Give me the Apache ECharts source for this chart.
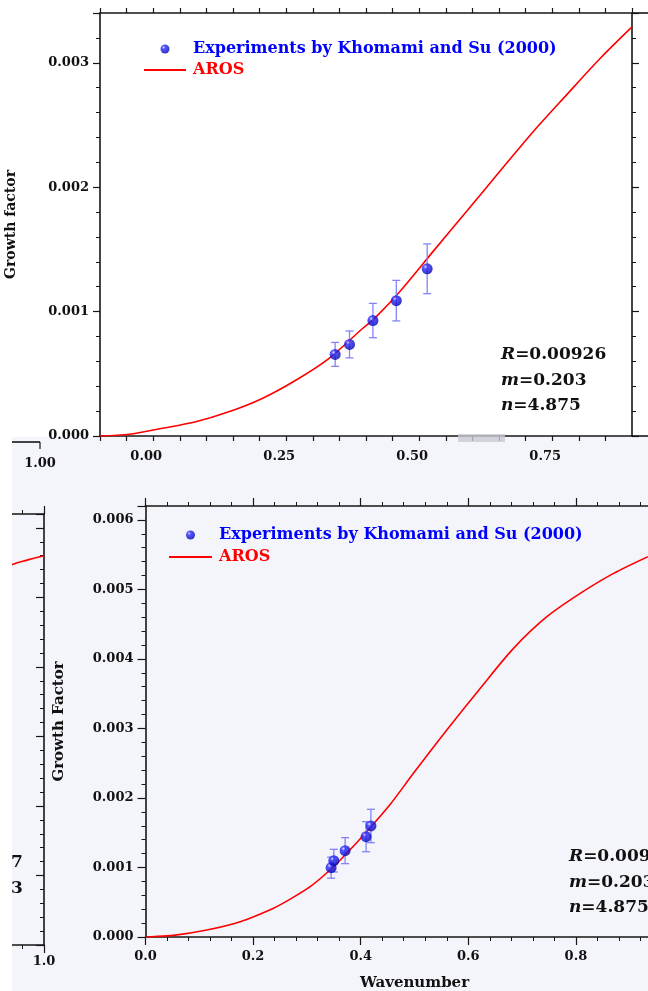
<!DOCTYPE html>
<html>
<head>
<meta charset="utf-8">
<script src="https://cdn.jsdelivr.net/npm/echarts@6/dist/echarts.min.js"></script>
<style>
html,body{margin:0;padding:0;background:#fff;}
#container{width:648px;height:991px;}
</style>
</head>
<body>
<div id="container"></div>
<script>
var expName = 'Experiments by Khomami and Su (2000)';
var arosName = 'AROS';

// upper panel (growth factor vs wavenumber)
var topExpX = [0.342, 0.369, 0.413, 0.457, 0.515];
var topExpY = [0.000656, 0.000736, 0.000928, 0.001088, 0.001344];
var topExpErr = [0.000096, 0.000108, 0.000138, 0.000163, 0.0002];
var topArosX = [-0.1, -0.045, 0.017, 0.08, 0.142, 0.205, 0.268, 0.33, 0.393, 0.418, 0.465, 0.527, 0.59, 0.652, 0.715, 0.777, 0.84, 0.9];
var topArosY = [0, 0.000014, 0.000062, 0.000114, 0.000194, 0.000302, 0.000448, 0.000622, 0.000862, 0.000954, 0.001168, 0.001488, 0.00181, 0.00213, 0.00245, 0.002742, 0.003034, 0.003288];
var topXLabels = ['0.00', '0.25', '0.50', '0.75'];

// lower panel
var lowExpX = [0.345, 0.350, 0.371, 0.410, 0.419];
var lowExpY = [0.000997, 0.001098, 0.001242, 0.001443, 0.001597];
var lowExpErr = [0.000151, 0.000163, 0.000187, 0.000216, 0.00024];
var lowArosX = [0, 0.012, 0.052, 0.114, 0.176, 0.238, 0.269, 0.306, 0.343, 0.371, 0.411, 0.455, 0.498, 0.56, 0.622, 0.684, 0.746, 0.808, 0.87, 0.934];
var lowArosY = [0, 0.000004, 0.000024, 0.000101, 0.00022, 0.000415, 0.000545, 0.000724, 0.000964, 0.00118, 0.001515, 0.00191, 0.002355, 0.002978, 0.003576, 0.004152, 0.004607, 0.004943, 0.005231, 0.005472];

// cut-off panel at the left edge
var fragArosX = [0.92, 0.94, 0.97, 1.0];
var fragArosY = [0.0054, 0.00547, 0.00554, 0.0056];

var paramLines = [['R', '0.00926'], ['m', '0.203'], ['n', '4.875']];

function zip(xs, ys, es){
	var out = [];
	for (var i = 0; i < xs.length; i++) {
		out.push(es ? [xs[i], ys[i], es[i]] : [xs[i], ys[i]]);
	}
	return out;
}

var serif = 'DejaVu Serif';
var axisCol = '#161616';
var ballColor = {
	type: 'radial', x: 0.35, y: 0.32, r: 0.75,
	colorStops: [{offset: 0, color: '#d8d8ff'}, {offset: 0.25, color: '#2a2aff'}, {offset: 1, color: '#0000a8'}]
};
var lineIcon = 'path://M0,0L42,0L42,1.8L0,1.8Z';

function errorBars(params, api){
	var x = api.value(0), y = api.value(1), e = api.value(2);
	var hi = api.coord([x, y + e]);
	var lo = api.coord([x, y - e]);
	var w = 4;
	var st = {stroke: '#8484f6', lineWidth: 1.3};
	return {
		type: 'group',
		children: [
			{type: 'line', shape: {x1: hi[0], y1: hi[1], x2: lo[0], y2: lo[1]}, style: st},
			{type: 'line', shape: {x1: hi[0] - w, y1: hi[1], x2: hi[0] + w, y2: hi[1]}, style: st},
			{type: 'line', shape: {x1: lo[0] - w, y1: lo[1], x2: lo[0] + w, y2: lo[1]}, style: st}
		]
	};
}

function valueAxis(o){
	var a = {
		type: 'value',
		gridIndex: o.grid,
		position: o.pos,
		min: o.min, max: o.max, interval: o.interval,
		axisLine: {show: true, onZero: false, lineStyle: {color: axisCol, width: 1.6}},
		axisTick: {show: true, inside: !!o.inside, length: o.tick || 7, lineStyle: {color: axisCol, width: 1.2}},
		minorTick: {show: !!o.minor, splitNumber: o.minor || 5, length: 4, lineStyle: {color: axisCol, width: 1}},
		splitLine: {show: false},
		axisLabel: {show: !!o.labels, formatter: o.labels, margin: o.margin || 10, showMaxLabel: !!o.maxLabel,
			color: '#111', fontFamily: serif, fontWeight: 'bold', fontSize: 13, padding: o.labelPad || 0}
	};
	if (o.name) {
		a.name = o.name;
		a.nameLocation = 'middle';
		a.nameGap = o.nameGap;
		a.nameRotate = o.nameRotate || 0;
		a.nameTextStyle = {color: '#111', fontFamily: serif, fontWeight: 'bold', fontSize: o.nameSize || 14};
	}
	return a;
}

var topXFmt = function(v){
	var k = Math.round(v * 100);
	if (k < 0 || k % 25 !== 0) return '';
	return topXLabels[k / 25] || '';
};
var fix3 = function(v){ return v.toFixed(3); };
var fix1 = function(v){ return v.toFixed(1); };
var onlyOne = function(v){ return Math.abs(v - 1) < 1e-9 ? '1.0' : ''; };

function paramText(x, y){
	var out = [];
	for (var i = 0; i < paramLines.length; i++) {
		out.push({
			type: 'text', x: x, y: y + i * 25.5, z: 50,
			style: {
				text: '{i|' + paramLines[i][0] + '}{b|=' + paramLines[i][1] + '}',
				verticalAlign: 'middle', align: 'left',
				rich: {
					i: {fontFamily: serif, fontStyle: 'italic', fontWeight: 'bold', fontSize: 17, fill: '#111'},
					b: {fontFamily: serif, fontWeight: 'bold', fontSize: 17, fill: '#111'}
				}
			}
		});
	}
	return out;
}

var legendText = {fontFamily: serif, fontWeight: 'bold', fontSize: 16, padding: [0, 0, 0, 2]};

var myChart = echarts.init(document.getElementById('container'));
var option = {
	animation: false,
	grid: [
		{left: 100, top: 13, width: 532, height: 423, outerBoundsMode: 'none', containLabel: false},
		{left: 145.5, top: 506, width: 538, height: 431, outerBoundsMode: 'none', containLabel: false},
		{left: -494, top: 514, width: 538, height: 431, outerBoundsMode: 'none', containLabel: false}
	],
	legend: [
		{
			left: 139, top: 36, orient: 'vertical', itemWidth: 42, itemHeight: 9, itemGap: 5,
			data: [{name: expName, textStyle: {color: '#0000ff'}}, {name: arosName, icon: lineIcon, textStyle: {color: '#ff0000'}}],
			textStyle: legendText
		},
		{
			left: 164, top: 522, orient: 'vertical', itemWidth: 43, itemHeight: 9, itemGap: 6,
			data: [{name: expName, textStyle: {color: '#0000ff'}}, {name: arosName, icon: lineIcon, textStyle: {color: '#ff0000'}}],
			textStyle: legendText
		}
	],
	xAxis: [
		valueAxis({grid: 0, pos: 'bottom', min: -0.1, max: 0.9, interval: 0.05, tick: 5, labels: topXFmt, margin: 14, labelPad: [0, 14, 0, 0]}),
		valueAxis({grid: 0, pos: 'top', min: -0.1, max: 0.9, interval: 0.05, tick: 5}),
		valueAxis({grid: 1, pos: 'bottom', min: 0, max: 1, interval: 0.2, minor: 5, tick: 8, labels: fix1, margin: 13,
			name: 'Wavenumber', nameGap: 39, nameSize: 15}),
		valueAxis({grid: 1, pos: 'top', min: 0, max: 1, interval: 0.2, minor: 5, tick: 8}),
		valueAxis({grid: 2, pos: 'bottom', min: 0, max: 1, interval: 0.2, minor: 5, tick: 8, labels: onlyOne, margin: 10, maxLabel: true}),
		valueAxis({grid: 2, pos: 'top', min: 0, max: 1, interval: 0.2, minor: 5, tick: 8})
	],
	yAxis: [
		valueAxis({grid: 0, pos: 'left', min: 0, max: 0.0034, interval: 0.001, minor: 5, tick: 7, labels: fix3, margin: 11,
			name: 'Growth factor', nameGap: 82, nameRotate: 90}),
		valueAxis({grid: 0, pos: 'right', min: 0, max: 0.0034, interval: 0.001, minor: 5, tick: 7}),
		valueAxis({grid: 1, pos: 'left', min: 0, max: 0.0062, interval: 0.001, minor: 5, tick: 8, labels: fix3, margin: 12,
			name: 'Growth Factor', nameGap: 79, nameRotate: 90, nameSize: 15}),
		valueAxis({grid: 1, pos: 'right', min: 0, max: 0.0062, interval: 0.001, minor: 5, tick: 8}),
		valueAxis({grid: 2, pos: 'left', min: 0, max: 0.0062, interval: 0.001, minor: 5}),
		valueAxis({grid: 2, pos: 'right', min: 0, max: 0.0062, interval: 0.001, minor: 5, tick: 8, inside: true})
	],
	series: [
		{name: arosName, type: 'line', xAxisIndex: 0, yAxisIndex: 0, data: zip(topArosX, topArosY),
			smooth: 0.3, symbol: 'none', lineStyle: {color: '#ff0000', width: 1.6}, itemStyle: {color: '#ff0000'}, z: 3},
		{type: 'custom', xAxisIndex: 0, yAxisIndex: 0, data: zip(topExpX, topExpY, topExpErr),
			renderItem: errorBars, encode: {x: 0, y: 1}, z: 4, silent: true},
		{name: expName, type: 'scatter', xAxisIndex: 0, yAxisIndex: 0, data: zip(topExpX, topExpY),
			symbolSize: 11, itemStyle: {color: ballColor}, z: 5},

		{name: arosName, type: 'line', xAxisIndex: 2, yAxisIndex: 2, data: zip(lowArosX, lowArosY),
			smooth: 0.3, symbol: 'none', lineStyle: {color: '#ff0000', width: 1.6}, itemStyle: {color: '#ff0000'}, z: 3},
		{type: 'custom', xAxisIndex: 2, yAxisIndex: 2, data: zip(lowExpX, lowExpY, lowExpErr),
			renderItem: errorBars, encode: {x: 0, y: 1}, z: 4, silent: true},
		{name: expName, type: 'scatter', xAxisIndex: 2, yAxisIndex: 2, data: zip(lowExpX, lowExpY),
			symbolSize: 11, itemStyle: {color: ballColor}, z: 5},

		{name: arosName, type: 'line', xAxisIndex: 4, yAxisIndex: 4, data: zip(fragArosX, fragArosY),
			smooth: true, symbol: 'none', lineStyle: {color: '#ff0000', width: 1.6}, z: 3}
	],
	graphic: [
		{type: 'rect', z: -10, shape: {x: 12, y: 437, width: 636, height: 554}, style: {fill: '#f4f4fb'}},
		{type: 'rect', z: 100, shape: {x: 0, y: 437, width: 12, height: 554}, style: {fill: '#ffffff'}},
		{type: 'rect', z: 20, shape: {x: 458, y: 434, width: 47, height: 8}, style: {fill: '#c9c9d3', opacity: 0.8}},
		{type: 'line', z: 20, shape: {x1: 632, y1: 13, x2: 648, y2: 13}, style: {stroke: axisCol, lineWidth: 1.6}},
		{type: 'line', z: 20, shape: {x1: 632, y1: 436, x2: 648, y2: 436}, style: {stroke: axisCol, lineWidth: 1.6}},
		{type: 'line', z: 20, shape: {x1: 12, y1: 442, x2: 40, y2: 442}, style: {stroke: axisCol, lineWidth: 1.6}},
		{type: 'line', z: 20, shape: {x1: 40, y1: 442, x2: 40, y2: 449}, style: {stroke: axisCol, lineWidth: 1.2}},
		{type: 'text', z: 20, x: 40, y: 464, style: {text: '1.00', align: 'center', verticalAlign: 'middle',
			fontFamily: serif, fontWeight: 'bold', fontSize: 13, fill: '#111'}},
		{type: 'text', z: 20, x: 11, y: 863, style: {text: '7', align: 'left', verticalAlign: 'middle',
			fontFamily: serif, fontWeight: 'bold', fontSize: 17, fill: '#111'}},
		{type: 'text', z: 20, x: 11, y: 889, style: {text: '3', align: 'left', verticalAlign: 'middle',
			fontFamily: serif, fontWeight: 'bold', fontSize: 17, fill: '#111'}}
	].concat(paramText(501, 355)).concat(paramText(569, 857))
};
myChart.setOption(option);
</script>
</body>
</html>
